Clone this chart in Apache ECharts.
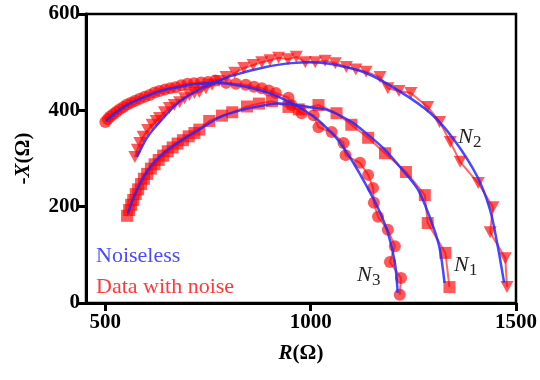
<!DOCTYPE html>
<html>
<head>
<meta charset="utf-8">
<script src="https://cdn.jsdelivr.net/npm/echarts@6/dist/echarts.min.js"></script>
<style>
  html, body { margin: 0; padding: 0; background: #fff; }
  #chart { width: 540px; height: 380px; }
</style>
</head>
<body>
<div id="chart"></div>
<script>
// Nyquist arcs: R (Ω) on x, -X (Ω) on y
const xTicks = [500, 1000, 1500];
const yTicks = [0, 200, 400, 600];

// Noiseless model curves
const n1Fit = [[555,186],[572,225],[596,266],[620,293],[652,318],[693,342],[734,363],[777,385],[833,401],[891,411],[921,414],[971,410],[1002,406],[1043,400],[1099,376],[1140,349],[1181,318],[1220,280],[1261,236],[1290,178],[1313,118],[1326,42]];
const n2Fit = [[577,303],[603,345],[637,380],[676,415],[717,438],[758,455],[809,472],[891,490],[954,498],[1000,500],[1050,496],[1133,478],[1212,442],[1292,394],[1350,338],[1406,262],[1437,193],[1454,125],[1471,42]];
const n3Fit = [[502,378],[524,394],[555,412],[596,428],[637,441],[676,448],[717,454],[777,457],[842,449],[891,438],[930,425],[971,407],[1012,384],[1043,360],[1067,338],[1099,298],[1123,263],[1140,237],[1164,197],[1188,146],[1205,84],[1212,21]];

// Measured points with noise
const n1Noisy = [[553,181],[558,193],[563,204],[568,214],[574,226],[580,236],[587,247],[594,258],[602,268],[611,279],[620,288],[630,297],[641,306],[652,315],[664,323],[676,331],[689,338],[703,346],[717,353],[729,360],[753,378],[784,389],[809,396],[845,408],[874,414],[906,419],[946,407],[971,402],[1019,411],[1063,394],[1099,370],[1140,343],[1181,311],[1232,272],[1278,224],[1285,166],[1328,104],[1338,33]];
const n2Noisy = [[572,303],[578,318],[584,332],[592,345],[603,359],[614,370],[624,378],[632,384],[644,396],[656,405],[668,411],[681,417],[693,425],[705,432],[717,436],[729,438],[745,446],[760,453],[777,461],[794,469],[815,478],[837,488],[860,494],[881,500],[901,504],[922,509],[945,506],[965,511],[987,500],[1011,500],[1035,503],[1060,498],[1087,490],[1110,485],[1135,480],[1169,469],[1188,446],[1215,440],[1244,436],[1285,407],[1314,376],[1340,334],[1364,293],[1408,249],[1444,199],[1437,147],[1474,93],[1478,33]];
const n3Noisy = [[500,376],[506,382],[512,387],[519,392],[527,397],[535,402],[544,407],[553,412],[563,416],[573,420],[584,424],[596,428],[608,432],[620,437],[632,440],[645,443],[658,446],[671,448],[685,452],[700,455],[716,456],[733,458],[750,459],[768,462],[794,457],[818,455],[842,453],[862,449],[881,446],[898,441],[915,436],[946,426],[953,411],[978,394],[1007,390],[1019,365],[1051,355],[1080,332],[1085,307],[1120,291],[1140,266],[1152,239],[1154,208],[1164,179],[1188,152],[1205,118],[1193,85],[1220,52],[1217,17]];

const SERIF = '"Liberation Serif", "Times New Roman", serif';
const BLUE_LINE = 'rgba(40, 40, 255, 0.85)';
const RED_FILL = 'rgba(255, 0, 0, 0.65)';
const RED_LINE = 'rgba(255, 0, 0, 0.6)';

function fitSeries(data) {
  return {
    name: 'Noiseless', type: 'line', data: data, z: 4,
    showSymbol: false, smooth: 0.3,
    lineStyle: { color: BLUE_LINE, width: 2.5 },
    itemStyle: { color: BLUE_LINE }
  };
}
function noisySeries(data, symbol, rotate) {
  return {
    name: 'Data with noise', type: 'line', data: data, z: 2,
    symbol: symbol, symbolSize: symbol === 'triangle' ? [13, 12] : 12,
    symbolRotate: rotate || 0, showSymbol: true,
    lineStyle: { color: RED_LINE, width: 2 },
    itemStyle: { color: RED_FILL, borderWidth: 0 }
  };
}

// Curve labels N1, N2, N3 (italic N with subscript)
function curveLabel(x, y, sub) {
  return {
    type: 'group', children: [
      { type: 'text', x: x, y: y, style: { text: 'N', font: 'italic 22px ' + SERIF, fill: '#222', textAlign: 'left', textVerticalAlign: 'middle' } },
      { type: 'text', x: x + 15, y: y + 6, style: { text: sub, font: '17px ' + SERIF, fill: '#222', textAlign: 'left', textVerticalAlign: 'middle' } }
    ]
  };
}

const chart = echarts.init(document.getElementById('chart'), null, { renderer: 'canvas' });
chart.setOption({
  animation: false,
  backgroundColor: '#fff',
  grid: { left: 86, right: 21, top: 14, bottom: 77, show: true, borderColor: '#000', borderWidth: 2.5, backgroundColor: 'transparent' },
  legend: {
    orient: 'vertical', left: 86, top: 240, itemGap: 9, itemWidth: 0, itemHeight: 0,
    selectedMode: false,
    data: [
      { name: 'Noiseless', icon: 'none', textStyle: { color: '#4b4bff' } },
      { name: 'Data with noise', icon: 'none', textStyle: { color: '#ff3a3a' } }
    ],
    textStyle: { fontFamily: SERIF, fontSize: 22, padding: [0, 0, 0, 0] }
  },
  xAxis: {
    type: 'value', min: 453, max: 1500,
    name: '{b|R}(Ω)', nameLocation: 'middle', nameGap: 40,
    nameTextStyle: { fontFamily: SERIF, fontSize: 21, fontWeight: 'bold', color: '#000',
      rich: { b: { fontFamily: SERIF, fontSize: 21, fontWeight: 'bold', fontStyle: 'italic', color: '#000' } } },
    axisLine: { show: true, onZero: false, lineStyle: { color: '#000', width: 3 } },
    axisTick: { show: true, customValues: xTicks, length: 8, inside: false, lineStyle: { color: '#000', width: 3 } },
    axisLabel: { customValues: xTicks, margin: 9, fontFamily: SERIF, fontSize: 21, fontWeight: 'bold', color: '#000',
      formatter: function (v) { return String(v); } },
    splitLine: { show: false }
  },
  yAxis: {
    type: 'value', min: 0, max: 600, interval: 200,
    name: '-{b|X}(Ω)', nameLocation: 'middle', nameGap: 52, nameRotate: 90,
    nameTextStyle: { fontFamily: SERIF, fontSize: 21, fontWeight: 'bold', color: '#000',
      rich: { b: { fontFamily: SERIF, fontSize: 21, fontWeight: 'bold', fontStyle: 'italic', color: '#000' } } },
    axisLine: { show: true, onZero: false, lineStyle: { color: '#000', width: 3 } },
    axisTick: { show: true, length: 8, inside: false, lineStyle: { color: '#000', width: 3 } },
    axisLabel: { margin: 6, fontFamily: SERIF, fontSize: 21, fontWeight: 'bold', color: '#000',
      formatter: function (v) { return yTicks.indexOf(v) >= 0 ? String(v) : ''; } },
    splitLine: { show: false }
  },
  series: [
    noisySeries(n3Noisy, 'circle'),
    noisySeries(n1Noisy, 'rect'),
    noisySeries(n2Noisy, 'triangle', 180),
    fitSeries(n3Fit),
    fitSeries(n1Fit),
    fitSeries(n2Fit)
  ],
  graphic: [
    curveLabel(458, 137, '2'),
    curveLabel(454, 265, '1'),
    curveLabel(357, 275, '3')
  ]
});
</script>
</body>
</html>
